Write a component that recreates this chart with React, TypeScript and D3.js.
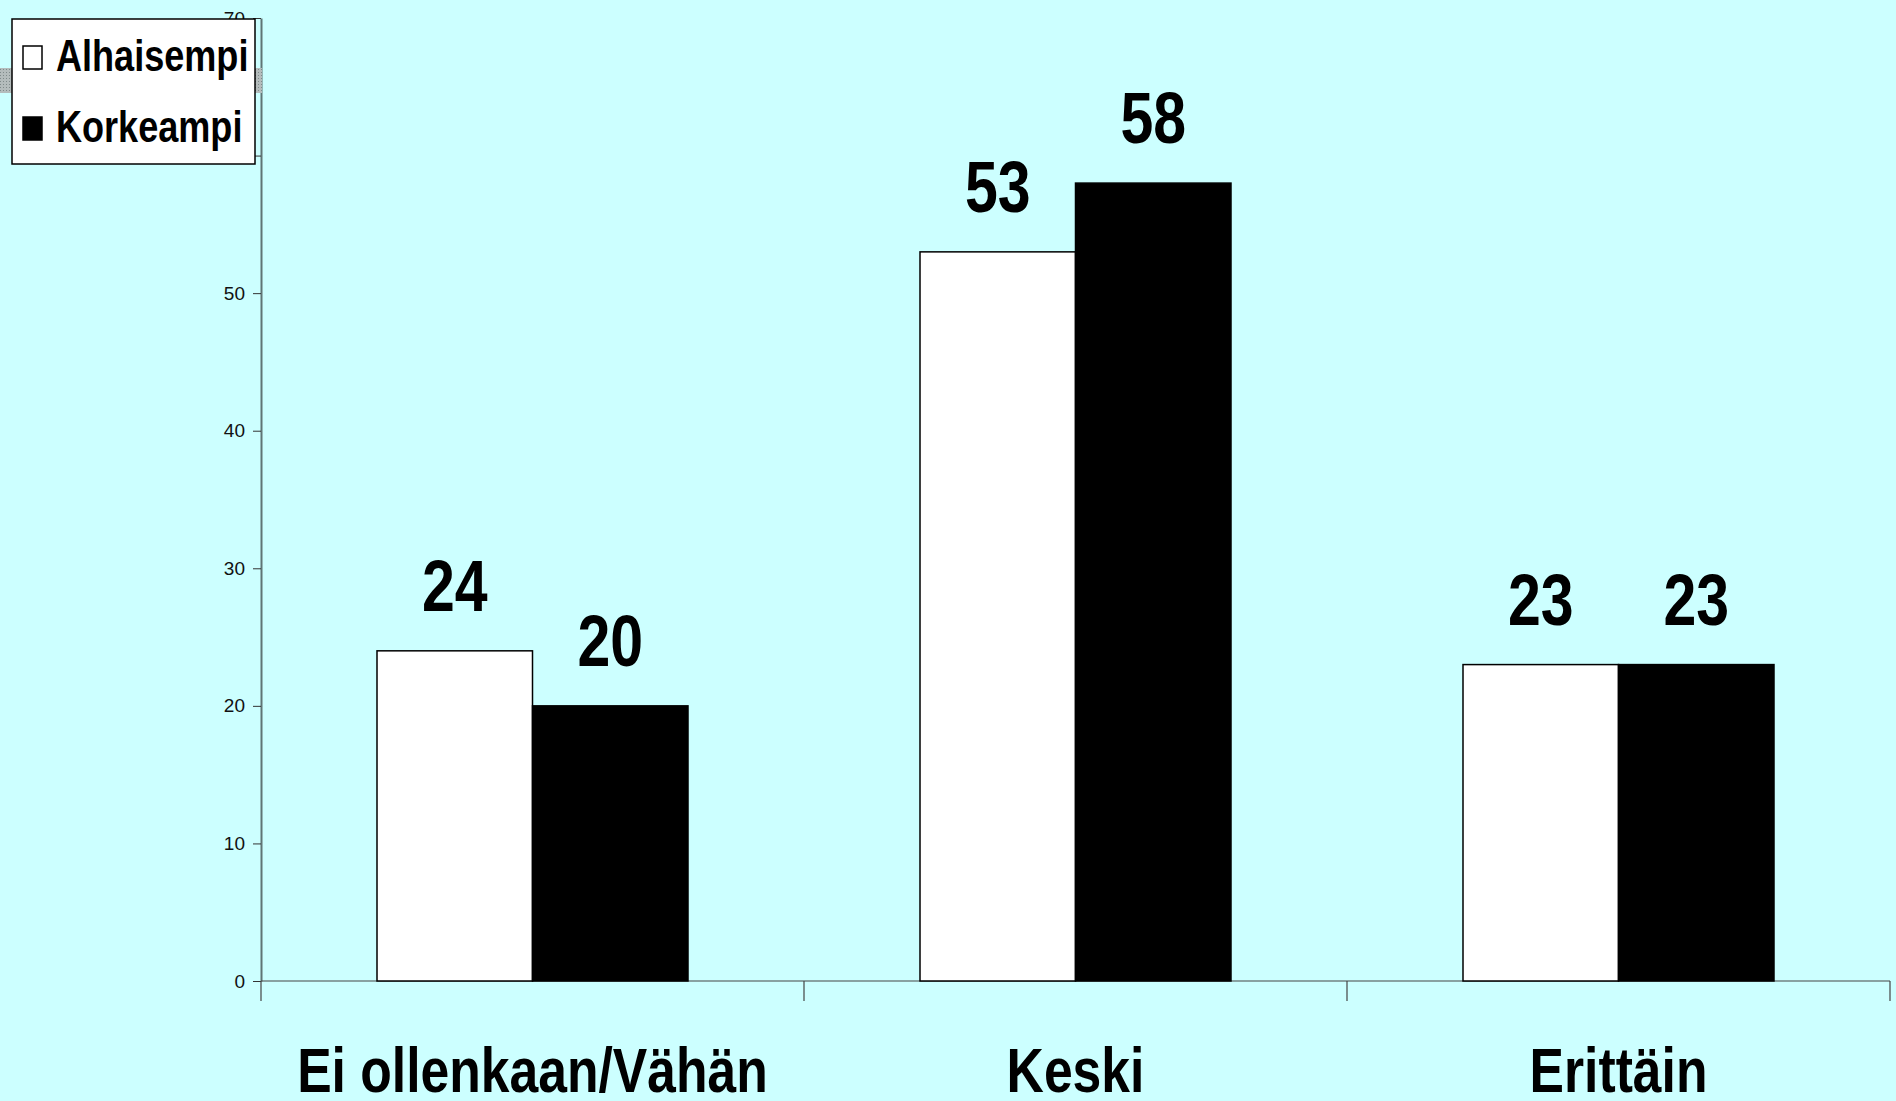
import * as React from "react";
import * as d3 from "d3";

const categories = ["Ei ollenkaan/Vähän", "Keski", "Erittäin"];
const seriesNames = ["Alhaisempi", "Korkeampi"];
const alhaisempi = [24, 53, 23];
const korkeampi = [20, 58, 23];
const yTicks = [0, 10, 20, 30, 40, 50, 60, 70];

const seriesFill = ["#ffffff", "#000000"];
const boldFont = '"Liberation Sans", Arial, sans-serif';
const narrow = 0.82; // squeeze the bold font to look like Arial Narrow

function drawChart(svgRef) {
  const svg = d3.select(svgRef.current);
  svg.selectAll("*").remove();

  const width = 1896;
  const height = 1101;
  const left = 261;
  const right = 1890;
  const top = 18;
  const bottom = 981;

  const data = categories.map((c, i) => ({
    name: c,
    values: [alhaisempi[i], korkeampi[i]],
  }));

  svg.attr("width", width).attr("height", height);

  svg
    .append("rect")
    .attr("width", width)
    .attr("height", height)
    .attr("fill", "#ccffff");

  const xScale = d3.scaleBand().domain(categories).range([left, right]).padding(0);
  const xInner = d3
    .scaleBand()
    .domain(seriesNames)
    .range([0, xScale.bandwidth()])
    .paddingInner(0)
    .paddingOuter(0.746);

  const yScale = d3.scaleLinear().domain([0, 70]).range([bottom, top]);

  // y axis
  const yAxis = d3
    .axisLeft(yScale)
    .tickValues(yTicks)
    .tickSize(8)
    .tickSizeOuter(0)
    .tickPadding(8);

  const gy = svg
    .append("g")
    .attr("transform", `translate(${left}, 0)`)
    .call(yAxis);
  gy.select(".domain").attr("stroke", "#5f7575").attr("stroke-width", 2);
  gy.selectAll(".tick line").attr("stroke", "#333");
  gy.selectAll(".tick text")
    .attr("font-family", boldFont)
    .attr("font-size", 19)
    .attr("fill", "#111");

  // x axis line + category separators
  const gx = svg.append("g");
  gx.append("line")
    .attr("x1", left)
    .attr("x2", right)
    .attr("y1", yScale(0))
    .attr("y2", yScale(0))
    .attr("stroke", "#444")
    .attr("stroke-width", 1.2);
  const bounds = categories.map((c) => xScale(c)).concat([right]);
  gx.selectAll("line.sep")
    .data(bounds)
    .enter()
    .append("line")
    .attr("class", "sep")
    .attr("x1", (d) => d)
    .attr("x2", (d) => d)
    .attr("y1", yScale(0))
    .attr("y2", yScale(0) + 20)
    .attr("stroke", "#444")
    .attr("stroke-width", 1.2);

  gx.selectAll("text.cat")
    .data(categories)
    .enter()
    .append("text")
    .attr("class", "cat")
    .attr(
      "transform",
      (d) => `translate(${xScale(d) + xScale.bandwidth() / 2}, 1092) scale(${narrow}, 1)`
    )
    .attr("text-anchor", "middle")
    .attr("font-family", boldFont)
    .attr("font-weight", "bold")
    .attr("font-size", 63)
    .attr("fill", "#000")
    .text((d) => d);

  // bars
  const groups = svg
    .selectAll("g.group")
    .data(data)
    .enter()
    .append("g")
    .attr("class", "group")
    .attr("transform", (d) => `translate(${xScale(d.name)}, 0)`);

  groups
    .selectAll("rect")
    .data((d) => d.values.map((v, i) => ({ v, s: seriesNames[i], i })))
    .enter()
    .append("rect")
    .attr("x", (d) => xInner(d.s))
    .attr("y", (d) => yScale(d.v))
    .attr("width", xInner.bandwidth())
    .attr("height", (d) => yScale(0) - yScale(d.v))
    .attr("fill", (d) => seriesFill[d.i])
    .attr("stroke", "#000")
    .attr("stroke-width", 1.5);

  groups
    .selectAll("text")
    .data((d) => d.values.map((v, i) => ({ v, s: seriesNames[i] })))
    .enter()
    .append("text")
    .attr(
      "transform",
      (d) =>
        `translate(${xInner(d.s) + xInner.bandwidth() / 2}, ${yScale(d.v) - 40}) scale(${narrow}, 1)`
    )
    .attr("text-anchor", "middle")
    .attr("font-family", boldFont)
    .attr("font-weight", "bold")
    .attr("font-size", 72)
    .attr("fill", "#000")
    .text((d) => d.v);

  // odd grey strip behind legend
  const defs = svg.append("defs");
  const pat = defs
    .append("pattern")
    .attr("id", "hatch")
    .attr("width", 3)
    .attr("height", 3)
    .attr("patternUnits", "userSpaceOnUse");
  pat.append("rect").attr("width", 3).attr("height", 3).attr("fill", "#b4bcbc");
  pat.append("rect").attr("width", 1).attr("height", 1).attr("fill", "#7f8a8a");
  svg
    .append("rect")
    .attr("x", 0)
    .attr("y", 68)
    .attr("width", 262)
    .attr("height", 25)
    .attr("fill", "url(#hatch)");

  // legend
  const legend = svg.append("g");
  legend
    .append("rect")
    .attr("x", 12)
    .attr("y", 19)
    .attr("width", 243)
    .attr("height", 145)
    .attr("fill", "#fff")
    .attr("stroke", "#000")
    .attr("stroke-width", 1.5);

  const items = legend
    .selectAll("g.item")
    .data(seriesNames)
    .enter()
    .append("g")
    .attr("class", "item")
    .attr("transform", (d, i) => `translate(0, ${i * 71})`);

  items
    .append("rect")
    .attr("x", 23)
    .attr("y", 46)
    .attr("width", 19)
    .attr("height", 23)
    .attr("fill", (d, i) => seriesFill[i])
    .attr("stroke", "#000")
    .attr("stroke-width", 1.5);

  items
    .append("text")
    .attr("transform", `translate(56, 71) scale(${narrow}, 1)`)
    .attr("font-family", boldFont)
    .attr("font-weight", "bold")
    .attr("font-size", 44)
    .attr("fill", "#000")
    .text((d) => d);
}

const App = () => {
  const svg = React.useRef(null);
  React.useEffect(() => {
    drawChart(svg);
  }, [svg]);

  return (
    <svg
      ref={svg}
      style={{ position: "fixed", left: 0, top: 0, display: "block" }}
    />
  );
};

export default App;
